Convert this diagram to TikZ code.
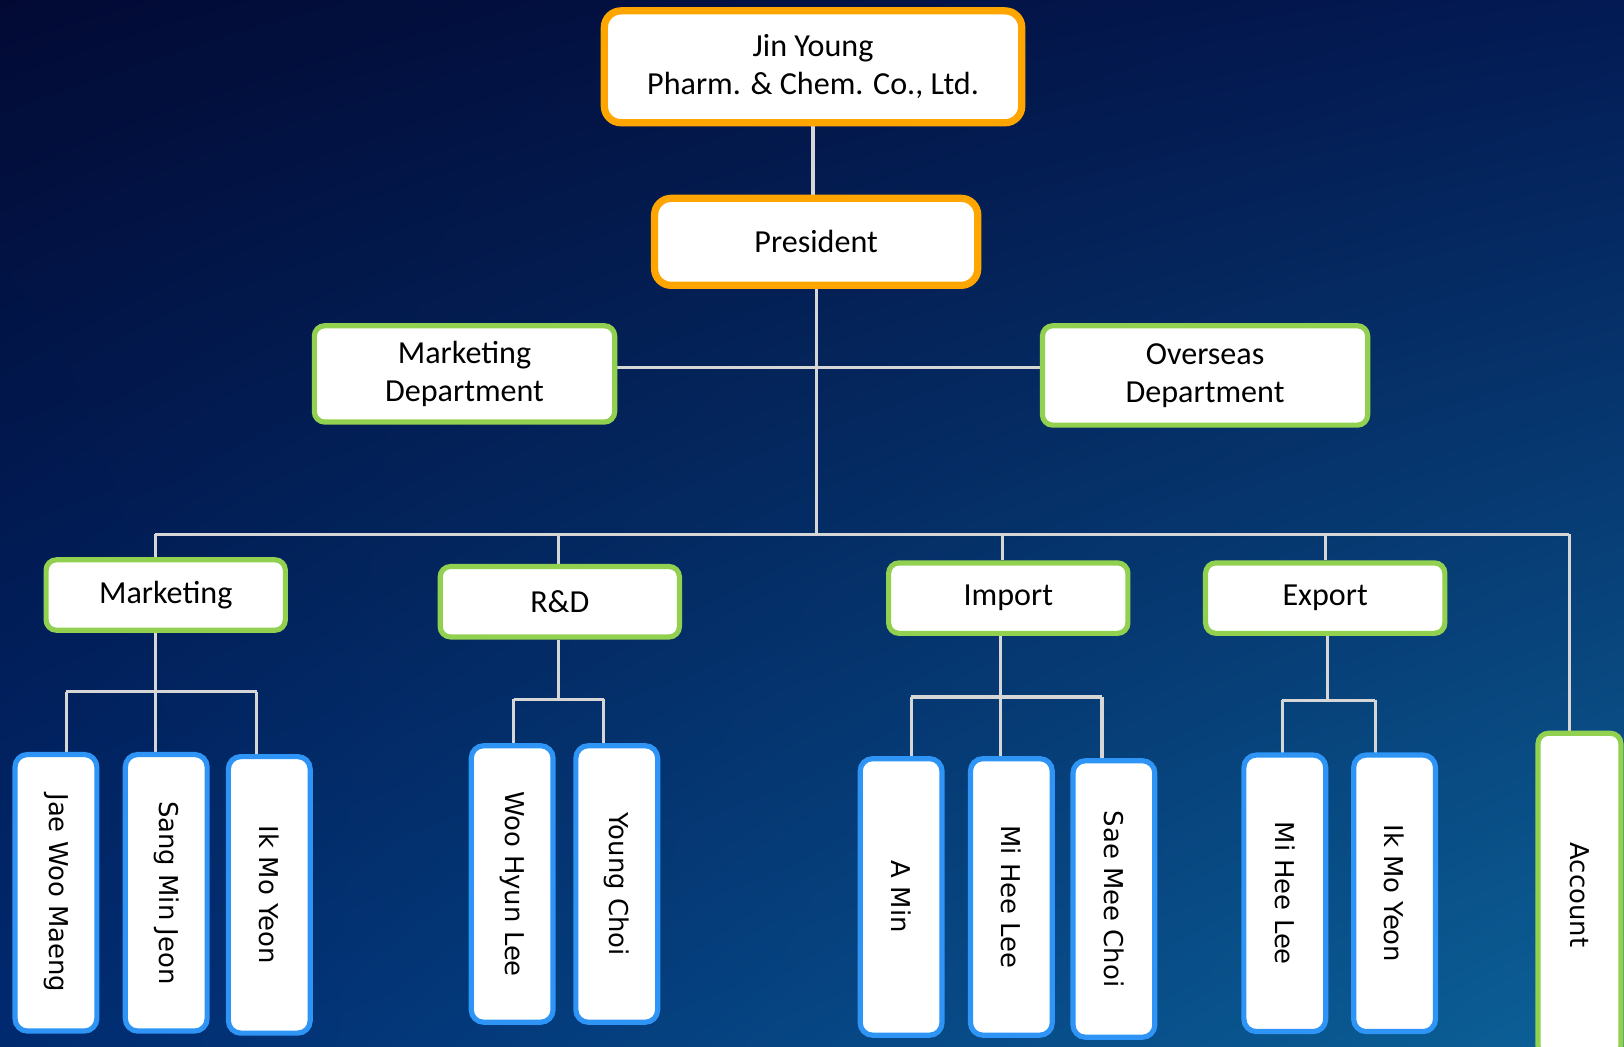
\documentclass[tikz,border=0pt]{standalone}
\usepackage{fontspec}
\setmainfont{Carlito}
\newfontfamily\namefont{DejaVu Sans}
\usepackage{tikz}
\usetikzlibrary{shadings}

\definecolor{orgline}{HTML}{FFA500}
\definecolor{deptgreen}{HTML}{92D050}
\definecolor{staffblue}{HTML}{2E94F5}
\definecolor{wire}{HTML}{D6D6D6}
\definecolor{bgTL}{RGB}{2,10,52}
\definecolor{bgTR}{RGB}{3,26,84}
\definecolor{bgBL}{RGB}{0,42,112}
\definecolor{bgBR}{RGB}{12,98,152}

\pgfdeclarelayer{backdrop}
\pgfdeclarelayer{wires}
\pgfsetlayers{backdrop,wires,main}

\tikzset{
    headbox/.style={draw=orgline, line width=3.5pt, fill=white, rounded corners=8pt,
        align=center, font=\fontsize{15.5}{18.5}\selectfont},
    deptbox/.style={draw=deptgreen, line width=2.5pt, fill=white, rounded corners=5pt,
        align=center, font=\fontsize{15.5}{18.5}\selectfont},
    unitbox/.style={deptbox, minimum width=115.5pt, minimum height=34pt},
    staffbox/.style={draw=staffblue, line width=2.5pt, fill=white, rounded corners=6pt,
        rotate=-90, font=\namefont\fontsize{12.5}{15}\selectfont,
        minimum width=133.5pt, minimum height=39.5pt},
    link/.style={draw=wire, line width=1.5pt},
}

\begin{document}
\begin{tikzpicture}[x=0.5pt, y=-0.5pt]
    \useasboundingbox (0,0) rectangle (1568,1010);
    \begin{pgfonlayer}{backdrop}
        \shade[upper left=bgTL, upper right=bgTR, lower left=bgBL, lower right=bgBR]
            (0,0) rectangle (1568,1010);
    \end{pgfonlayer}

    % top of the chart
    \node[headbox, minimum width=201.5pt, minimum height=54pt] (firm) at (785,64.5)
        {Jin Young\\Pharm. \& Chem. Co., Ltd.};
    \node[headbox, minimum width=156pt, minimum height=42pt] (pres) at (788,233.5) {President};

    \node[deptbox, minimum width=145pt, minimum height=46.5pt] (mktdept) at (448.5,361) {Marketing\\Department};
    \node[deptbox, minimum width=157pt, minimum height=48pt] (ovsdept) at (1163.5,362.5) {Overseas\\Department};

    % teams
    \node[unitbox] (mkt) at (160,574.5) {Marketing};
    \node[unitbox] (rnd) at (540.5,581) {R\&D};
    \node[unitbox] (imp) at (973.5,577.5) {Import};
    \node[unitbox] (exp) at (1279.5,577.5) {Export};
    \node[deptbox, rotate=-90, font=\namefont\fontsize{12.5}{15}\selectfont,
        minimum width=156pt, minimum height=40pt] (acc) at (1525,864) {Account};

    % staff
    \node[staffbox] (jae) at (54,862) {Jae Woo Maeng};
    \node[staffbox] (sang) at (160.5,862) {Sang Min Jeon};
    \node[staffbox] (ikmoA) at (260,864) {Ik Mo Yeon};
    \node[staffbox] (woo) at (494.5,853.5) {Woo Hyun Lee};
    \node[staffbox] (young) at (595.5,853.5) {Young Choi};
    \node[staffbox] (amin) at (870,866) {A Min};
    \node[staffbox] (miheeA) at (976.5,866) {Mi Hee Lee};
    \node[staffbox] (sae) at (1075.5,868) {Sae Mee Choi};
    \node[staffbox] (miheeB) at (1240.5,862.5) {Mi Hee Lee};
    \node[staffbox] (ikmoB) at (1346.5,862.5) {Ik Mo Yeon};

    \begin{pgfonlayer}{wires}
        \coordinate (deptJ) at (786,355);
        \draw[link] (firm) -- (firm |- pres.north);
        \draw[link] (pres) -- (pres |- 0,516);
        \draw[link] (mktdept.east |- deptJ) -- (ovsdept.west |- deptJ);

        % main bus
        \foreach \n/\x in {mkt/150, rnd/539, imp/968, exp/1280, acc/1515}
        {
            \coordinate (b-\n) at (\x,516);
            \draw[link] (b-\n) -- (b-\n |- \n.north);
        }
        \draw[link] (b-mkt) -- (b-acc);

        % marketing team
        \foreach \n/\x in {jae/64, sang/150, ikmoA/248}
        {
            \coordinate (t-\n) at (\x,668);
            \draw[link] (t-\n) -- (t-\n |- \n.north);
        }
        \draw[link] (t-jae) -- (t-ikmoA);
        \draw[link] (t-sang |- mkt.south) -- (t-sang);

        % r&d team
        \foreach \n/\x in {woo/496, young/583}
        {
            \coordinate (t-\n) at (\x,675);
            \draw[link] (t-\n) -- (t-\n |- \n.north);
        }
        \draw[link] (t-woo) -- (t-young);
        \coordinate (rndJ) at (539,675);
        \draw[link] (rndJ |- rnd.south) -- (rndJ);

        % import team
        \foreach \n/\x in {amin/880, miheeA/966, sae/1064}
        {
            \coordinate (t-\n) at (\x,673);
            \draw[link] (t-\n) -- (t-\n |- \n.north);
        }
        \draw[link] (t-amin) -- (t-sae);
        \draw[link] (t-miheeA |- imp.south) -- (t-miheeA);

        % export team
        \foreach \n/\x in {miheeB/1238, ikmoB/1328}
        {
            \coordinate (t-\n) at (\x,676);
            \draw[link] (t-\n) -- (t-\n |- \n.north);
        }
        \draw[link] (t-miheeB) -- (t-ikmoB);
        \coordinate (expJ) at (1282,676);
        \draw[link] (expJ |- exp.south) -- (expJ);
    \end{pgfonlayer}
\end{tikzpicture}
\end{document}
